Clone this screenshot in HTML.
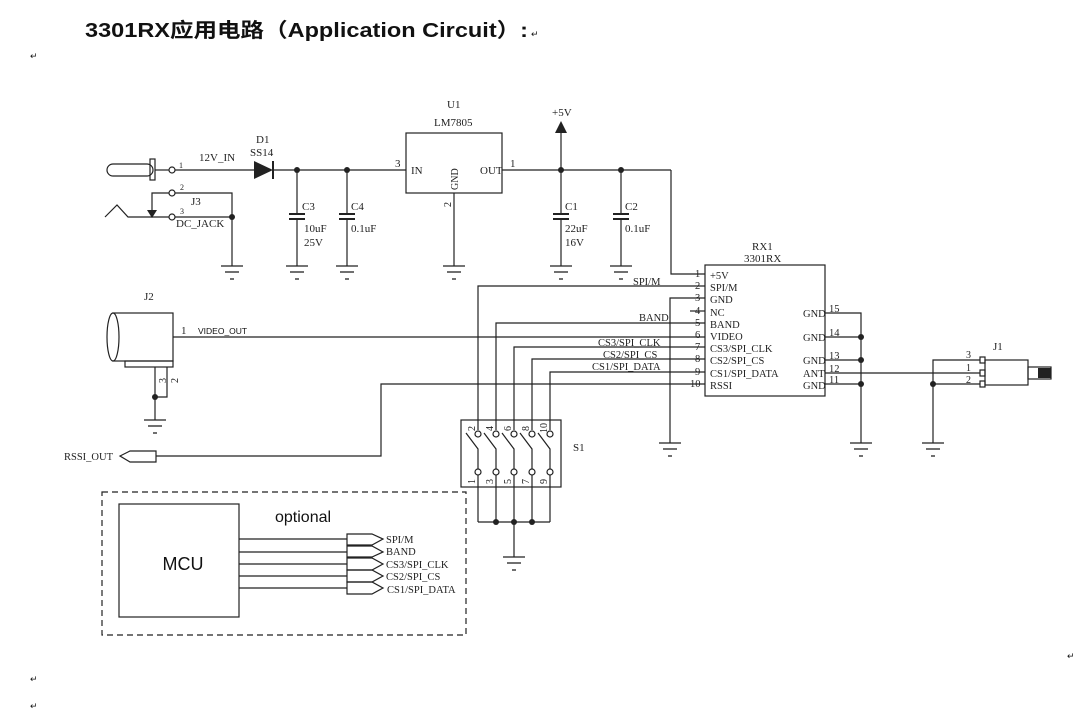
<!DOCTYPE html>
<html><head><meta charset="utf-8"><style>
html,body{margin:0;padding:0;background:#fff;width:1077px;height:718px;overflow:hidden}
svg{display:block}
.t{font-family:"Liberation Serif",serif;font-size:11px;fill:#222}
.s{font-family:"Liberation Sans",sans-serif;fill:#111}
</style></head><body>
<svg width="1077" height="718" viewBox="0 0 1077 718" xmlns="http://www.w3.org/2000/svg">
<defs>
<g id="gnd"><line x1="-11" y1="0" x2="11" y2="0" stroke="#222" stroke-width="1.3"/><line x1="-7" y1="6" x2="7" y2="6" stroke="#222" stroke-width="1.3"/><line x1="-2" y1="13" x2="2" y2="13" stroke="#222" stroke-width="1.3"/></g>
</defs>
<text x="85" y="37" class="s" font-size="20" font-weight="bold" textLength="443" lengthAdjust="spacingAndGlyphs" style="font-family:'Liberation Sans','Noto Sans CJK SC',sans-serif">3301RX应用电路（Application Circuit）:</text>
<text x="531" y="37" class="s" font-size="9" fill="#888">↵</text>
<g class="s" font-size="9" fill="#777"><text x="30" y="59">↵</text><text x="30" y="682">↵</text><text x="30" y="709">↵</text><text x="1067" y="659">↵</text></g>

<g stroke="#222" stroke-width="1.2" fill="none">
<!-- power rail -->
<rect x="107" y="164" width="46" height="12" rx="6"/>
<rect x="150" y="159" width="5" height="21"/>
<line x1="155" y1="170" x2="169" y2="170"/>
<circle cx="172" cy="170" r="3"/>
<line x1="175" y1="170" x2="254" y2="170"/>
<line x1="273" y1="170" x2="406" y2="170"/>
<line x1="273" y1="161" x2="273" y2="179" stroke-width="2"/>
<!-- J3 -->
<circle cx="172" cy="193" r="3"/><circle cx="172" cy="217" r="3"/>
<polyline points="169,193 152,193 152,210"/>
<polyline points="175,193 232,193 232,266"/>
<polyline points="105,217 117,205 128,217 169,217"/>
<line x1="175" y1="217" x2="232" y2="217"/>
<!-- caps C3 C4 -->
<line x1="297" y1="170" x2="297" y2="214"/><line x1="289" y1="214" x2="305" y2="214" stroke-width="2"/><line x1="289" y1="219" x2="305" y2="219" stroke-width="2"/><line x1="297" y1="219" x2="297" y2="266"/>
<line x1="347" y1="170" x2="347" y2="214"/><line x1="339" y1="214" x2="355" y2="214" stroke-width="2"/><line x1="339" y1="219" x2="355" y2="219" stroke-width="2"/><line x1="347" y1="219" x2="347" y2="266"/>
<!-- U1 -->
<rect x="406" y="133" width="96" height="60"/>
<line x1="454" y1="193" x2="454" y2="266"/>
<line x1="502" y1="170" x2="671" y2="170"/>
<line x1="561" y1="133" x2="561" y2="214"/>
<line x1="553" y1="214" x2="569" y2="214" stroke-width="2"/><line x1="553" y1="219" x2="569" y2="219" stroke-width="2"/><line x1="561" y1="219" x2="561" y2="266"/>
<line x1="621" y1="170" x2="621" y2="214"/>
<line x1="613" y1="214" x2="629" y2="214" stroke-width="2"/><line x1="613" y1="219" x2="629" y2="219" stroke-width="2"/><line x1="621" y1="219" x2="621" y2="266"/>
<polyline points="671,170 671,274 705,274"/>
<!-- RX1 -->
<rect x="705" y="265" width="120" height="131"/>
<polyline points="705,286 478,286 478,430"/>
<polyline points="705,298 670,298 670,443"/>
<line x1="690" y1="311" x2="705" y2="311"/>
<polyline points="705,323 496,323 496,430"/>
<line x1="173" y1="337" x2="705" y2="337"/>
<polyline points="705,347 514,347 514,430"/>
<polyline points="705,359 532,359 532,430"/>
<polyline points="705,372 550,372 550,430"/>
<polyline points="705,384 381,384 381,456 156,456"/>
<polyline points="825,313 861,313 861,443"/>
<line x1="825" y1="337" x2="861" y2="337"/>
<line x1="825" y1="360" x2="861" y2="360"/>
<line x1="825" y1="384" x2="861" y2="384"/>
<line x1="825" y1="373" x2="980" y2="373"/>
<polyline points="980,360 933,360 933,443"/>
<line x1="933" y1="384" x2="980" y2="384"/>
<!-- J1 -->
<rect x="980" y="357" width="5" height="6"/><rect x="980" y="370" width="5" height="6"/><rect x="980" y="381" width="5" height="6"/>
<rect x="985" y="360" width="43" height="25"/>
<rect x="1028" y="367" width="23" height="12"/>
<!-- J2 -->
<rect x="113" y="313" width="60" height="48"/>
<ellipse cx="113" cy="337" rx="6" ry="24" fill="#fff"/>
<rect x="125" y="361" width="48" height="6"/>
<line x1="155" y1="367" x2="155" y2="420"/>
<polyline points="167,367 167,397 155,397"/>
<!-- RSSI_OUT -->
<polygon points="120,456 130,451 156,451 156,462 130,462"/>
<!-- S1 -->
<rect x="461" y="420" width="100" height="67"/>
<line x1="478" y1="522" x2="550" y2="522"/>
<line x1="514" y1="522" x2="514" y2="557"/>
</g>
<g stroke="#222" stroke-width="1.2" fill="#fff">
<circle cx="478" cy="434" r="3"/><circle cx="496" cy="434" r="3"/><circle cx="514" cy="434" r="3"/><circle cx="532" cy="434" r="3"/><circle cx="550" cy="434" r="3"/>
<circle cx="478" cy="472" r="3"/><circle cx="496" cy="472" r="3"/><circle cx="514" cy="472" r="3"/><circle cx="532" cy="472" r="3"/><circle cx="550" cy="472" r="3"/>
</g>
<g stroke="#222" stroke-width="1.2" fill="none">
<path d="M478,469 V449 L466,433 M478,475 V522"/>
<path d="M496,469 V449 L484,433 M496,475 V522"/>
<path d="M514,469 V449 L502,433 M514,475 V522"/>
<path d="M532,469 V449 L520,433 M532,475 V522"/>
<path d="M550,469 V449 L538,433 M550,475 V522"/>
<!-- dashed box -->
<rect x="102" y="492" width="364" height="143" stroke-dasharray="6,4"/>
<rect x="119" y="504" width="120" height="113"/>
<line x1="239" y1="539" x2="347" y2="539"/><line x1="239" y1="552" x2="347" y2="552"/><line x1="239" y1="564" x2="347" y2="564"/><line x1="239" y1="576" x2="347" y2="576"/><line x1="239" y1="588" x2="347" y2="588"/>
<polygon points="347,534 372,534 383,539 372,545 347,545"/>
<polygon points="347,546 372,546 383,552 372,557 347,557"/>
<polygon points="347,558 372,558 383,564 372,570 347,570"/>
<polygon points="347,570 372,570 383,576 372,582 347,582"/>
<polygon points="347,582 372,582 383,588 372,594 347,594"/>
</g>
<!-- filled items -->
<g fill="#222">
<polygon points="254,161 254,179 273,170"/>
<polygon points="147,210 157,210 152,218"/>
<polygon points="555,133 567,133 561,121"/>
<rect x="1038" y="368" width="13" height="10"/>
<circle cx="297" cy="170" r="3"/><circle cx="347" cy="170" r="3"/><circle cx="561" cy="170" r="3"/><circle cx="621" cy="170" r="3"/>
<circle cx="232" cy="217" r="3"/>
<circle cx="861" cy="337" r="3"/><circle cx="861" cy="360" r="3"/><circle cx="861" cy="384" r="3"/>
<circle cx="933" cy="384" r="3"/><circle cx="155" cy="397" r="3"/>
<circle cx="496" cy="522" r="3"/><circle cx="514" cy="522" r="3"/><circle cx="532" cy="522" r="3"/>
</g>
<use href="#gnd" x="232" y="266"/><use href="#gnd" x="297" y="266"/><use href="#gnd" x="347" y="266"/><use href="#gnd" x="454" y="266"/>
<use href="#gnd" x="561" y="266"/><use href="#gnd" x="621" y="266"/>
<use href="#gnd" x="670" y="443"/><use href="#gnd" x="861" y="443"/><use href="#gnd" x="933" y="443"/>
<use href="#gnd" x="155" y="420"/><use href="#gnd" x="514" y="557"/>

<!-- labels -->
<g class="t">
<text x="179" y="168" font-size="8">1</text>
<text x="199" y="161">12V_IN</text>
<text x="256" y="143">D1</text>
<text x="250" y="156">SS14</text>
<text x="180" y="190" font-size="8">2</text>
<text x="180" y="214" font-size="8">3</text>
<text x="191" y="205">J3</text>
<text x="176" y="227">DC_JACK</text>
<text x="302" y="210">C3</text><text x="304" y="232">10uF</text><text x="304" y="246">25V</text>
<text x="351" y="210">C4</text><text x="351" y="232">0.1uF</text>
<text x="447" y="108">U1</text>
<text x="434" y="126">LM7805</text>
<text x="395" y="167">3</text><text x="411" y="174">IN</text><text x="480" y="174">OUT</text><text x="510" y="167">1</text>
<text transform="translate(458,190) rotate(-90)" font-size="10">GND</text>
<text transform="translate(451,207) rotate(-90)" font-size="10">2</text>
<text x="552" y="116">+5V</text>
<text x="565" y="210">C1</text><text x="565" y="232">22uF</text><text x="565" y="246">16V</text>
<text x="625" y="210">C2</text><text x="625" y="232">0.1uF</text>
<text x="752" y="250">RX1</text>
<text x="744" y="262">3301RX</text>
<g font-size="10.5">
<text x="695" y="277">1</text><text x="710" y="279">+5V</text>
<text x="695" y="289">2</text><text x="710" y="291">SPI/M</text>
<text x="695" y="301">3</text><text x="710" y="303">GND</text>
<text x="695" y="314">4</text><text x="710" y="316">NC</text>
<text x="695" y="326">5</text><text x="710" y="328">BAND</text>
<text x="695" y="338">6</text><text x="710" y="340">VIDEO</text>
<text x="695" y="350">7</text><text x="710" y="352">CS3/SPI_CLK</text>
<text x="695" y="362">8</text><text x="710" y="364">CS2/SPI_CS</text>
<text x="695" y="375">9</text><text x="710" y="377">CS1/SPI_DATA</text>
<text x="690" y="387">10</text><text x="710" y="389">RSSI</text>
<text x="803" y="317">GND</text><text x="829" y="312">15</text>
<text x="803" y="341">GND</text><text x="829" y="336">14</text>
<text x="803" y="364">GND</text><text x="829" y="359">13</text>
<text x="803" y="377">ANT</text><text x="829" y="372">12</text>
<text x="803" y="389">GND</text><text x="829" y="383">11</text>
<text x="633" y="285">SPI/M</text>
<text x="639" y="321">BAND</text>
<text x="598" y="346">CS3/SPI_CLK</text>
<text x="603" y="358">CS2/SPI_CS</text>
<text x="592" y="370">CS1/SPI_DATA</text>
</g>
<text x="966" y="358" font-size="10">3</text><text x="966" y="371" font-size="10">1</text><text x="966" y="383" font-size="10">2</text>
<text x="993" y="350">J1</text>
<text x="144" y="300">J2</text>
<text x="181" y="334">1</text>
<text transform="translate(166,383) rotate(-90)" font-size="10">3</text>
<text transform="translate(178,383) rotate(-90)" font-size="10">2</text>
<text x="64" y="460" font-size="10.5">RSSI_OUT</text>
<text x="573" y="451">S1</text>
<g font-size="10">
<text transform="translate(475,431) rotate(-90)">2</text>
<text transform="translate(493,431) rotate(-90)">4</text>
<text transform="translate(511,431) rotate(-90)">6</text>
<text transform="translate(529,431) rotate(-90)">8</text>
<text transform="translate(547,433) rotate(-90)">10</text>
<text transform="translate(475,484) rotate(-90)">1</text>
<text transform="translate(493,484) rotate(-90)">3</text>
<text transform="translate(511,484) rotate(-90)">5</text>
<text transform="translate(529,484) rotate(-90)">7</text>
<text transform="translate(547,484) rotate(-90)">9</text>
</g>
<g font-size="10.5">
<text x="386" y="543">SPI/M</text>
<text x="386" y="555">BAND</text>
<text x="386" y="568">CS3/SPI_CLK</text>
<text x="386" y="580">CS2/SPI_CS</text>
<text x="387" y="593">CS1/SPI_DATA</text>
</g>
</g>
<text x="198" y="334" class="s" font-size="8.5">VIDEO_OUT</text>
<text x="275" y="522" class="s" font-size="16">optional</text>
<text x="183" y="570" class="s" font-size="18" text-anchor="middle">MCU</text>
</svg>
</body></html>
